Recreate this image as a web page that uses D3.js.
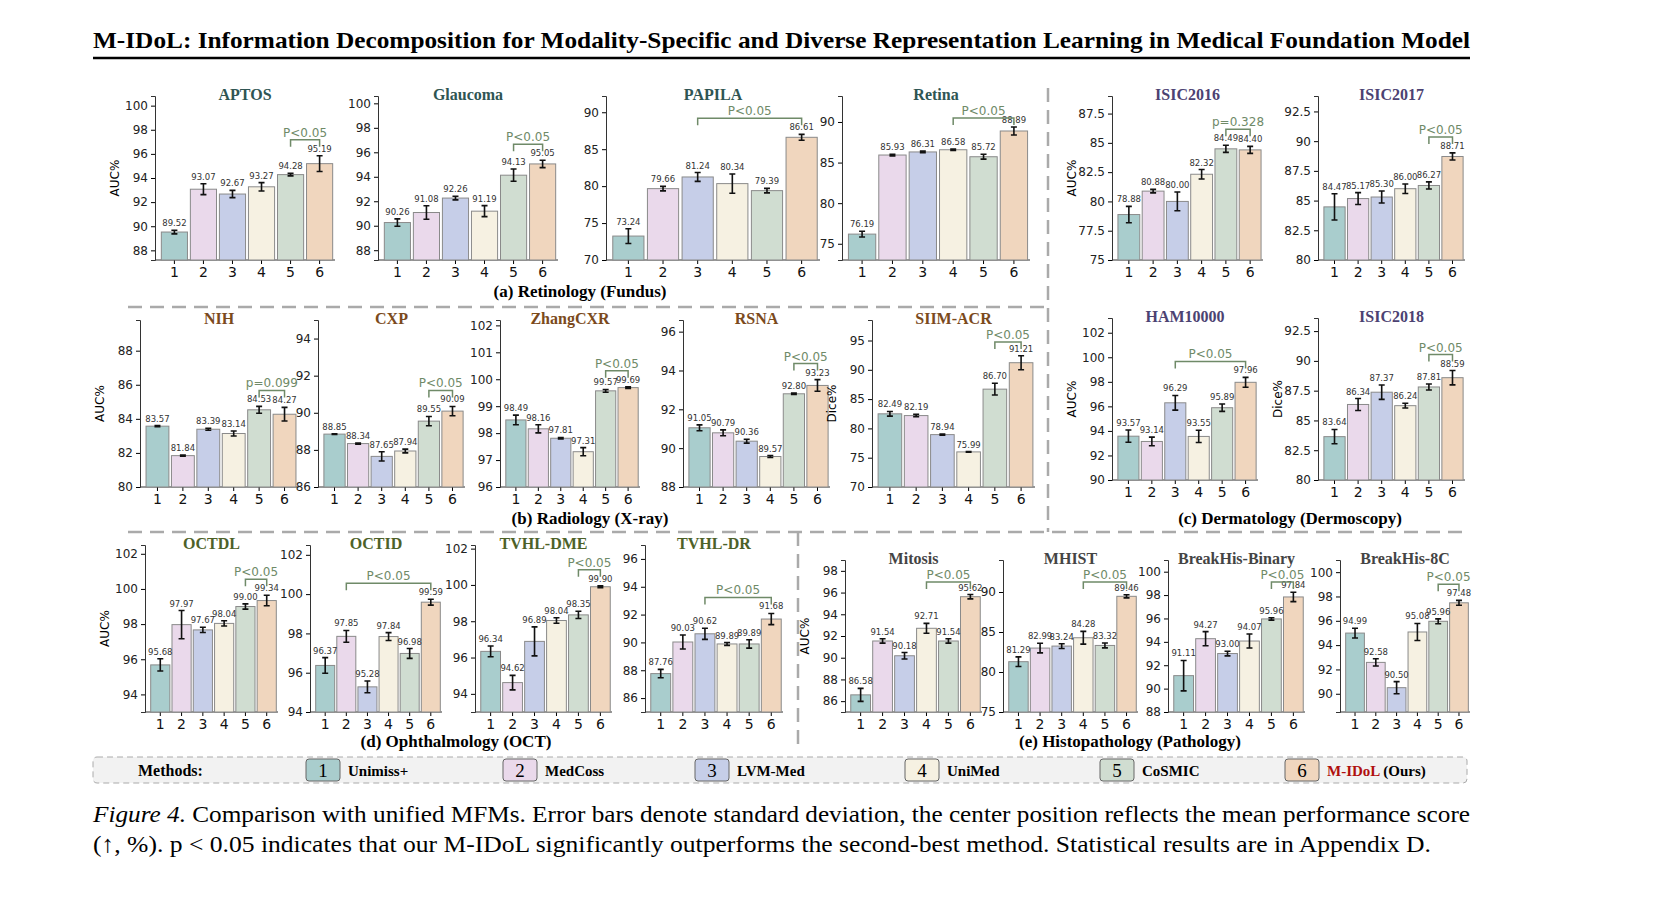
<!DOCTYPE html>
<html><head><meta charset="utf-8">
<script src="https://cdn.jsdelivr.net/npm/d3@7"></script>
<style>body{margin:0;background:#fff}</style>
</head><body>
<svg id="fig" width="1660" height="911"></svg>
<script>
// method colors, ids 1..6
var methodNames = ["Unimiss+", "MedCoss", "LVM-Med", "UniMed", "CoSMIC", "M-IDoL (Ours)"];
var methodColors = ["#a9cdcd", "#ead9eb", "#c6cee8", "#f6f1e2", "#d0ddd1", "#f0d6be"];

// dataset names
var datasets = ["APTOS","Glaucoma","PAPILA","Retina","ISIC2016","ISIC2017",
  "NIH","CXP","ZhangCXR","RSNA","SIIM-ACR","HAM10000","ISIC2018",
  "OCTDL","OCTID","TVHL-DME","TVHL-DR","Mitosis","MHIST","BreakHis-Binary","BreakHis-8C"];
// mean scores
var means = [
  [89.52,93.07,92.67,93.27,94.28,95.19],
  [90.26,91.08,92.26,91.19,94.13,95.05],
  [73.24,79.66,81.24,80.34,79.39,86.61],
  [76.19,85.93,86.31,86.58,85.72,88.89],
  [78.88,80.88,80.00,82.32,84.49,84.40],
  [84.47,85.17,85.30,86.00,86.27,88.71],
  [83.57,81.84,83.39,83.14,84.53,84.27],
  [88.85,88.34,87.65,87.94,89.55,90.09],
  [98.49,98.16,97.81,97.31,99.57,99.69],
  [91.05,90.79,90.36,89.57,92.80,93.23],
  [82.49,82.19,78.94,75.99,86.70,91.21],
  [93.57,93.14,96.29,93.55,95.89,97.96],
  [83.64,86.34,87.37,86.24,87.81,88.59],
  [95.68,97.97,97.67,98.04,99.00,99.34],
  [96.37,97.85,95.28,97.84,96.98,99.59],
  [96.34,94.62,96.89,98.04,98.35,99.90],
  [87.76,90.03,90.62,89.89,89.89,91.68],
  [86.58,91.54,90.18,92.71,91.54,95.62],
  [81.29,82.99,83.24,84.28,83.32,89.46],
  [91.11,94.27,93.00,94.07,95.96,97.84],
  [94.99,92.58,90.50,95.08,95.96,97.48]
];
// standard deviations
var stds = [
  [0.15,0.45,0.3,0.35,0.1,0.65],
  [0.3,0.55,0.15,0.45,0.5,0.3],
  [1.0,0.3,0.6,1.3,0.3,0.4],
  [0.35,0.1,0.1,0.1,0.3,0.5],
  [0.7,0.15,0.8,0.4,0.3,0.3],
  [1.1,0.5,0.5,0.4,0.3,0.3],
  [0.03,0.03,0.06,0.15,0.2,0.4],
  [0.02,0.03,0.25,0.1,0.25,0.25],
  [0.18,0.15,0.03,0.15,0.05,0.03],
  [0.15,0.15,0.1,0.05,0.04,0.3],
  [0.4,0.2,0.1,0.05,1.0,1.2],
  [0.5,0.35,0.6,0.5,0.3,0.4],
  [0.6,0.5,0.6,0.2,0.25,0.6],
  [0.35,0.8,0.15,0.15,0.15,0.3],
  [0.4,0.3,0.3,0.2,0.25,0.15],
  [0.3,0.4,0.8,0.15,0.2,0.05],
  [0.3,0.5,0.4,0.1,0.3,0.4],
  [0.6,0.2,0.3,0.45,0.2,0.2],
  [0.6,0.6,0.3,0.8,0.3,0.2],
  [1.3,0.6,0.2,0.6,0.1,0.4],
  [0.4,0.3,0.5,0.7,0.2,0.2]
];
// y domains and ticks
var yDomains = [[87.2,100.8],[87.2,100.6],[70,92.2],[73,93.2],[75,89],[80,93.8],
  [80,89.8],[86,95],[96,102.2],[88,96.6],[70,98.5],[90,103.2],[80,93.6],
  [93,102.5],[94,102.5],[93,102.2],[85,97],[85,99],[75,94],[88,101],[88.5,101]];
var yTicks = [[88,90,92,94,96,98,100],[88,90,92,94,96,98,100],[70,75,80,85,90],[75,80,85,90],
  [75,77.5,80,82.5,85,87.5],[80,82.5,85,87.5,90,92.5],
  [80,82,84,86,88],[86,88,90,92,94],[96,97,98,99,100,101,102],[88,90,92,94,96],[70,75,80,85,90,95],
  [90,92,94,96,98,100,102],[80,82.5,85,87.5,90,92.5],
  [94,96,98,100,102],[94,96,98,100,102],[94,96,98,100,102],[86,88,90,92,94,96],
  [86,88,90,92,94,96,98],[75,80,85,90],[88,90,92,94,96,98,100],[90,92,94,96,98,100]];
var pLabels = ["P<0.05","P<0.05","P<0.05","P<0.05","p=0.328","P<0.05","p=0.099","P<0.05","P<0.05","P<0.05","P<0.05",
  "P<0.05","P<0.05","P<0.05","P<0.05","P<0.05","P<0.05","P<0.05","P<0.05","P<0.05","P<0.05"];
var pFrom = [5,5,3,4,5,5,5,5,5,5,5,3,5,5,2,5,3,4,4,5,5];
var yLabels = ["AUC%","","","","AUC%","","AUC%","","","","Dice%","AUC%","Dice%","AUC%","","","","AUC%","","",""];

// layout (plot boxes) [x0,x1,y0,y1]
var boxes = [[155,335,96,260],[378,558,96,260],[606,820,96,260],[842,1030,96,260],[1112,1263,96,260],[1318,1465,96,260],
  [140,298,320,487],[318,465,320,487],[500,640,320,487],[683,830,320,487],[872,1035,320,487],[1112,1258,318,480],[1318,1465,318,480],
  [145,278,545,712],[310,442,545,712],[475,612,545,712],[645,783,545,712],[845,982,560,712],[1003,1138,560,712],[1168,1305,560,712],[1340,1470,560,712]];
var titleColors = ["#2f5553","#2f5553","#2f5553","#2f5553","#4c4272","#4c4272",
  "#7b4a1c","#7b4a1c","#7b4a1c","#7b4a1c","#7b4a1c","#4c4272","#4c4272",
  "#4d6128","#4d6128","#4d6128","#4d6128","#444","#444","#444","#444"];

var svg = d3.select("#fig");
var serif = "'Liberation Serif','DejaVu Serif',serif";
var sans = "'DejaVu Sans',sans-serif";

svg.append("text").attr("x",93).attr("y",48).attr("font-family",serif).attr("font-weight","bold")
  .attr("font-size",23).attr("textLength",1377).attr("lengthAdjust","spacingAndGlyphs")
  .text("M-IDoL: Information Decomposition for Modality-Specific and Diverse Representation Learning in Medical Foundation Model");
svg.append("line").attr("x1",93).attr("x2",1470).attr("y1",58).attr("y2",58).attr("stroke","#000").attr("stroke-width",2.5);

datasets.forEach(function(name, k) {
  var b = boxes[k];
  var x = d3.scaleBand().domain(d3.range(1,7)).range([b[0]+4,b[1]]).paddingInner(0.1).paddingOuter(0.08);
  var y = d3.scaleLinear().domain(yDomains[k]).range([b[3],b[2]]);
  var g = svg.append("g");
  var yAx = g.append("g").attr("transform","translate("+b[0]+",0)")
    .call(d3.axisLeft(y).tickValues(yTicks[k]).tickSize(4).tickFormat(function(d){return d%1?d.toFixed(1):d;}));
  yAx.selectAll("text").attr("font-family",sans).attr("font-size",12).attr("fill","#222");
  yAx.select(".domain").attr("stroke","#333");
  var xAx = g.append("g").attr("transform","translate(0,"+b[3]+")").call(d3.axisBottom(x).tickSize(4));
  xAx.selectAll("text").attr("font-family",sans).attr("font-size",14).attr("fill","#111");
  xAx.select(".domain").attr("stroke","#333").attr("d","M"+b[0]+",0H"+b[1]);
  if (yLabels[k]) g.append("text").attr("transform","translate("+(b[0]-36)+","+((b[2]+b[3])/2)+") rotate(-90)")
    .attr("text-anchor","middle").attr("font-family",sans).attr("font-size",12).text(yLabels[k]);
  g.append("text").attr("x",(b[0]+b[1])/2).attr("y",b[2]+4).attr("text-anchor","middle")
    .attr("font-family",serif).attr("font-weight","bold").attr("font-size",16).attr("fill",titleColors[k]).text(name);
  var rows = means[k].map(function(v,i){return {m:i+1,v:v,s:stds[k][i]};});
  g.selectAll("rect.bar").data(rows).enter().append("rect")
    .attr("x",function(d){return x(d.m);}).attr("width",x.bandwidth())
    .attr("y",function(d){return y(d.v);}).attr("height",function(d){return b[3]-y(d.v);})
    .attr("fill",function(d){return methodColors[d.m-1];}).attr("stroke","#8a8a8a").attr("stroke-width",1);
  rows.forEach(function(d){
    var cx = x(d.m)+x.bandwidth()/2, t = y(d.v+d.s), bt = y(d.v-d.s);
    g.append("path").attr("d","M"+cx+","+t+"V"+bt+"M"+(cx-3)+","+t+"H"+(cx+3)+"M"+(cx-3)+","+bt+"H"+(cx+3))
      .attr("stroke","#111").attr("stroke-width",1.6).attr("fill","none");
    g.append("text").attr("x",cx).attr("y",t-4).attr("text-anchor","middle").attr("font-family",sans)
      .attr("font-size",8.5).attr("fill","#333").text(d.v.toFixed(2));
  });
  var top = d3.min(rows.filter(function(d){return d.m>=pFrom[k];}),function(d){return y(d.v+d.s);}) - 16;
  top = Math.max(top, b[2]+22);
  var xa = x(pFrom[k])+x.bandwidth()/2, xb = x(6)+x.bandwidth()/2;
  g.append("path").attr("d","M"+xa+","+(top+7)+"V"+top+"H"+xb+"V"+(top+7)).attr("fill","none")
    .attr("stroke","#6f8a68").attr("stroke-width",1.5);
  g.append("text").attr("x",(xa+xb)/2).attr("y",top-3).attr("text-anchor","middle").attr("font-family",sans)
    .attr("font-size",12).attr("fill","#6f8a68").text(pLabels[k]);
});

// section labels
var sections = [["(a) Retinology (Fundus)",580,297],["(b) Radiology (X-ray)",590,524],["(c) Dermatology (Dermoscopy)",1290,524],
  ["(d) Ophthalmology (OCT)",456,747],["(e) Histopathology (Pathology)",1130,747]];
sections.forEach(function(s){
  svg.append("text").attr("x",s[1]).attr("y",s[2]).attr("text-anchor","middle").attr("font-family",serif)
    .attr("font-weight","bold").attr("font-size",17).text(s[0]);
});
var dashes = [[128,307,1045,307],[128,532,1465,532],[1048,88,1048,532],[798,532,798,752]];
dashes.forEach(function(d){
  svg.append("line").attr("x1",d[0]).attr("y1",d[1]).attr("x2",d[2]).attr("y2",d[3])
    .attr("stroke","#aaa").attr("stroke-width",2.5).attr("stroke-dasharray","14,8");
});

// legend
svg.append("rect").attr("x",93).attr("y",757).attr("width",1374).attr("height",26).attr("rx",4)
  .attr("fill","#f2f2f2").attr("stroke","#aaa").attr("stroke-dasharray","6,4");
svg.append("text").attr("x",138).attr("y",776).attr("font-family",serif).attr("font-weight","bold").attr("font-size",16).text("Methods:");
var legX = [306,503,695,905,1100,1285];
methodNames.forEach(function(n,i){
  svg.append("rect").attr("x",legX[i]).attr("y",759).attr("width",34).attr("height",22).attr("rx",3)
    .attr("fill",methodColors[i]).attr("stroke","#666");
  svg.append("text").attr("x",legX[i]+17).attr("y",777).attr("text-anchor","middle").attr("font-family",serif).attr("font-size",19).text(i+1);
  var t = svg.append("text").attr("x",legX[i]+42).attr("y",776).attr("font-family",serif).attr("font-weight","bold").attr("font-size",15);
  if (i==5) { t.append("tspan").attr("fill","#b01010").text("M-IDoL"); t.append("tspan").text(" (Ours)"); }
  else t.text(n);
});

// caption
var cap = svg.append("text").attr("x",93).attr("y",822).attr("font-family",serif).attr("font-size",24)
  .attr("textLength",1377).attr("lengthAdjust","spacingAndGlyphs");
cap.append("tspan").attr("font-style","italic").text("Figure 4.");
cap.append("tspan").text(" Comparison with unified MFMs. Error bars denote standard deviation, the center position reflects the mean performance score");
svg.append("text").attr("x",93).attr("y",852).attr("font-family",serif).attr("font-size",24)
  .attr("textLength",1338).attr("lengthAdjust","spacingAndGlyphs")
  .text("(\u2191, %). p < 0.05 indicates that our M-IDoL significantly outperforms the second-best method. Statistical results are in Appendix D.");
</script>
</body></html>
